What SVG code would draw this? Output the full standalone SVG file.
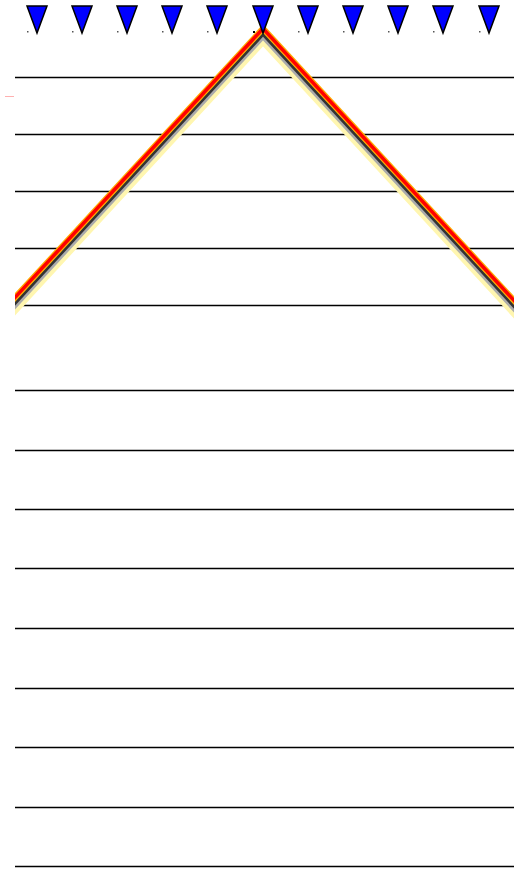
<svg xmlns="http://www.w3.org/2000/svg" width="519" height="870" viewBox="0 0 519 870">
<style>
.h{stroke:#000;stroke-width:1.3}
.tri{fill:#0000ff;stroke:#000;stroke-width:1.5;stroke-linejoin:miter}
.dot{fill:#555}
</style>
<defs>
<clipPath id="c"><rect x="15" y="0" width="499" height="870"/></clipPath>
<polyline id="v" points="-20,341 263,34 550,345" fill="none"/>
</defs>
<rect width="519" height="870" fill="#fff"/>
<g id="lines">
<line class="h" x1="15" y1="77.5" x2="514" y2="77.5"/>
<line class="h" x1="15" y1="134.5" x2="514" y2="134.5"/>
<line class="h" x1="15" y1="191.5" x2="514" y2="191.5"/>
<line class="h" x1="15" y1="248.5" x2="514" y2="248.5"/>
<line class="h" x1="15" y1="305.5" x2="514" y2="305.5"/>
<line class="h" x1="15" y1="390.5" x2="514" y2="390.5"/>
<line class="h" x1="15" y1="450.5" x2="514" y2="450.5"/>
<line class="h" x1="15" y1="509.5" x2="514" y2="509.5"/>
<line class="h" x1="15" y1="568.5" x2="514" y2="568.5"/>
<line class="h" x1="15" y1="628.5" x2="514" y2="628.5"/>
<line class="h" x1="15" y1="688.5" x2="514" y2="688.5"/>
<line class="h" x1="15" y1="747.5" x2="514" y2="747.5"/>
<line class="h" x1="15" y1="807.5" x2="514" y2="807.5"/>
<line class="h" x1="15" y1="866.5" x2="514" y2="866.5"/>
</g>
<line x1="5" y1="96.5" x2="14" y2="96.5" stroke="#ffb0b0" stroke-width="1"/>
<g id="profile" clip-path="url(#c)">
<use href="#v" y="8" stroke="#fff6b0" stroke-width="6"/>
<use href="#v" y="2" stroke="#aaa" stroke-width="6"/>
<use href="#v" y="0.5" stroke="#333" stroke-width="3"/>
<use href="#v" y="-5.5" stroke="#ffaa00" stroke-width="6"/>
<use href="#v" y="-5.5" stroke="#ff0000" stroke-width="3.5"/>
</g>
<g id="markers">
<g id="m1"><polygon class="tri" points="27,6 47,6 37,33"/><rect class="dot" x="27" y="31" width="1.5" height="1.5"/></g>
<g id="m2"><polygon class="tri" points="72,6 92,6 82,33"/><rect class="dot" x="72" y="31" width="1.5" height="1.5"/></g>
<g id="m3"><polygon class="tri" points="117,6 137,6 127,33"/><rect class="dot" x="117" y="31" width="1.5" height="1.5"/></g>
<g id="m4"><polygon class="tri" points="162,6 182,6 172,33"/><rect class="dot" x="162" y="31" width="1.5" height="1.5"/></g>
<g id="m5"><polygon class="tri" points="207,6 227,6 217,33"/><rect class="dot" x="207" y="31" width="1.5" height="1.5"/></g>
<g id="m6"><polygon class="tri" points="253,6 273,6 263,33"/><rect x="253" y="31" width="2" height="2" fill="#000"/></g>
<g id="m7"><polygon class="tri" points="298,6 318,6 308,33"/><rect class="dot" x="298" y="31" width="1.5" height="1.5"/></g>
<g id="m8"><polygon class="tri" points="343,6 363,6 353,33"/><rect class="dot" x="343" y="31" width="1.5" height="1.5"/></g>
<g id="m9"><polygon class="tri" points="388,6 408,6 398,33"/><rect class="dot" x="388" y="31" width="1.5" height="1.5"/></g>
<g id="m10"><polygon class="tri" points="433,6 453,6 443,33"/><rect class="dot" x="433" y="31" width="1.5" height="1.5"/></g>
<g id="m11"><polygon class="tri" points="479,6 499,6 489,33"/><rect class="dot" x="479" y="31" width="1.5" height="1.5"/></g>
</g>
</svg>
